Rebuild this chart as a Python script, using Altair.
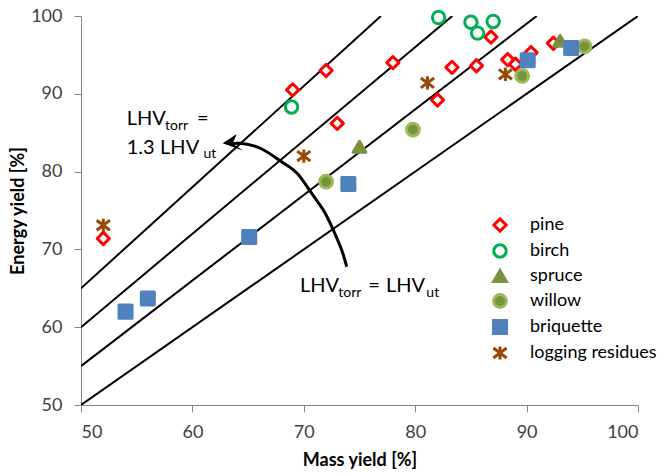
import altair as alt
import pandas as pd

FONT = "Lato"

series_order = ["pine", "birch", "spruce", "willow", "briquette", "logging residues"]

pine_x = [52, 69, 72, 73, 78, 82, 83.3, 85.5, 86.8, 88.3, 89, 90.4, 92.4]
pine_y = [71.4, 90.5, 93, 86.2, 94, 89.2, 93.4, 93.6, 97.3, 94.4, 93.8, 95.3, 96.5]
birch_x = [68.9, 82.1, 85, 85.6, 87]
birch_y = [88.3, 99.8, 99.2, 97.8, 99.3]
spruce_x = [75, 93]
spruce_y = [83.2, 96.8]
willow_x = [72, 79.8, 89.6, 95.2]
willow_y = [78.7, 85.4, 92.3, 96.1]
briq_x = [54, 56, 65.1, 74, 90.1, 94]
briq_y = [62, 63.7, 71.6, 78.4, 94.3, 95.9]
log_x = [52, 70, 81.1, 88.1]
log_y = [73.1, 82, 91.4, 92.5]

# LHV ratio reference lines (energy yield = ratio * mass yield)
ratios = [1.0, 1.1, 1.2, 1.3]

# curved annotation arrow (data coordinates)
arc_x = [63.6, 64.3, 66.1, 68.0, 69.4, 70.6, 71.75, 72.65, 73.4, 73.85]
arc_y = [83.6, 83.64, 83.0, 81.27, 79.78, 77.42, 75.06, 72.49, 69.92, 67.77]
arrow_tip = (62.72, 83.64)

# annotation text pieces: main size and subscript size
big_text = ["LHV", "=", "1.3", "LHV", "LHV", "=", "LHV"]
big_x = [54.1, 60.41, 54.1, 57.1, 69.66, 75.79, 77.38]
big_y = [86.0, 86.0, 82.22, 82.22, 64.56, 64.56, 64.56]
sub_text = ["torr", "ut", "torr", "ut"]
sub_x = [57.54, 61.0, 73.1, 81.0]
sub_y = [85.35, 81.71, 63.92, 63.92]

rows = []
for name, xs, ys in [("pine", pine_x, pine_y), ("birch", birch_x, birch_y),
                     ("spruce", spruce_x, spruce_y), ("willow", willow_x, willow_y),
                     ("briquette", briq_x, briq_y), ("logging residues", log_x, log_y)]:
    for a, b in zip(xs, ys):
        rows.append({"series": name, "mass": a, "energy": b})
pts = pd.DataFrame(rows)

line_rows = []
for k in ratios:
    line_rows.append({"ratio": k, "mass": 50, "energy": 50 * k})
    line_rows.append({"ratio": k, "mass": min(100, 100 / k), "energy": min(100, 100 / k) * k})
lines = pd.DataFrame(line_rows)

arc = pd.DataFrame({"mass": arc_x, "energy": arc_y, "i": list(range(len(arc_x)))})
tip = pd.DataFrame({"mass": [arrow_tip[0]], "energy": [arrow_tip[1]]})
big = pd.DataFrame({"mass": big_x, "energy": big_y, "t": big_text})
sub = pd.DataFrame({"mass": sub_x, "energy": sub_y, "t": sub_text})
spr = pd.DataFrame({"mass": spruce_x, "energy": spruce_y})

xscale = alt.Scale(domain=[50, 100], nice=False)
yscale = alt.Scale(domain=[50, 100], nice=False)

X = alt.X("mass:Q", scale=xscale, title="Mass yield [%]",
          axis=alt.Axis(values=[50, 60, 70, 80, 90, 100], grid=False, tickSize=7,
                        labelPadding=11, titlePadding=10))
Y = alt.Y("energy:Q", scale=yscale, title="Energy yield [%]",
          axis=alt.Axis(values=[50, 60, 70, 80, 90, 100], grid=False, tickSize=7,
                        labelPadding=12, titlePadding=3))
Xp = alt.X("mass:Q", scale=xscale)
Yp = alt.Y("energy:Q", scale=yscale)

ASTER = "M-1,-0.75L1,0.75M-1,0.75L1,-0.75M0,-1L0,1"
ARROW = "M0,0L1.4,-0.93L1.0,0.05L2.06,0.74Z"

leg = alt.Legend(title=None, orient="none", legendX=410, legendY=200,
                 labelFontSize=18, labelFont=FONT, labelColor="#000000",
                 rowPadding=0, labelOffset=21, symbolOpacity=1)

line_layer = alt.Chart(lines).mark_line(color="black", strokeWidth=2, clip=True).encode(
    x=X, y=Y, detail="ratio:N")

arc_layer = alt.Chart(arc).mark_line(color="black", strokeWidth=3, interpolate="natural").encode(
    x=Xp, y=Yp, order="i:Q")

tip_layer = alt.Chart(tip).mark_point(shape=ARROW, size=400, fill="black", filled=True,
                                      opacity=1).encode(x=Xp, y=Yp)

pt_layer = alt.Chart(pts).mark_point(opacity=1, strokeJoin="round").encode(
    x=Xp, y=Yp,
    shape=alt.Shape("series:N", scale=alt.Scale(domain=series_order,
                    range=["diamond", "circle", "triangle-up", "circle", "square", ASTER]), legend=leg),
    stroke=alt.Stroke("series:N", scale=alt.Scale(domain=series_order,
                      range=["#FF0000", "#00B050", "#77933C", "#9BBB59", "#4F81BD", "#984807"]), legend=leg),
    fill=alt.Fill("series:N", scale=alt.Scale(domain=series_order,
                  range=["white", "white", "#77933C", "#77933C", "#4F81BD", "transparent"]), legend=leg),
    size=alt.Size("series:N", scale=alt.Scale(domain=series_order,
                  range=[150, 175, 170, 110, 150, 225]), legend=leg),
    strokeWidth=alt.StrokeWidth("series:N", scale=alt.Scale(domain=series_order,
                                range=[3, 3, 2, 2, 1, 3]), legend=leg),
)

dot_layer = alt.Chart(spr).mark_point(shape="circle", size=6, filled=True, color="#C0504D",
                                      opacity=1).encode(x=Xp, y=Yp)

big_layer = alt.Chart(big).mark_text(align="left", baseline="alphabetic", font=FONT,
                                     fontSize=20, color="#000000").encode(x=Xp, y=Yp, text="t:N")
sub_layer = alt.Chart(sub).mark_text(align="left", baseline="alphabetic", font=FONT,
                                     fontSize=14, color="#000000").encode(x=Xp, y=Yp, text="t:N")

chart = alt.layer(line_layer, arc_layer, tip_layer, pt_layer, dot_layer,
                  big_layer, sub_layer).properties(
    width=557, height=389,
    padding={"left": 81, "top": 16, "right": 34, "bottom": 71},
    autosize=alt.AutoSizeParams(type="none"),
    background="white",
).configure_view(stroke=None).configure_axis(
    domainColor="#868686", tickColor="#868686", labelColor="#404040",
    labelFont=FONT, labelFontSize=18, titleFont=FONT, titleFontSize=18,
    titleFontWeight="bold", titleColor="#000000",
)

chart.save("out.html", embed_options={"renderer": "svg", "actions": False})
